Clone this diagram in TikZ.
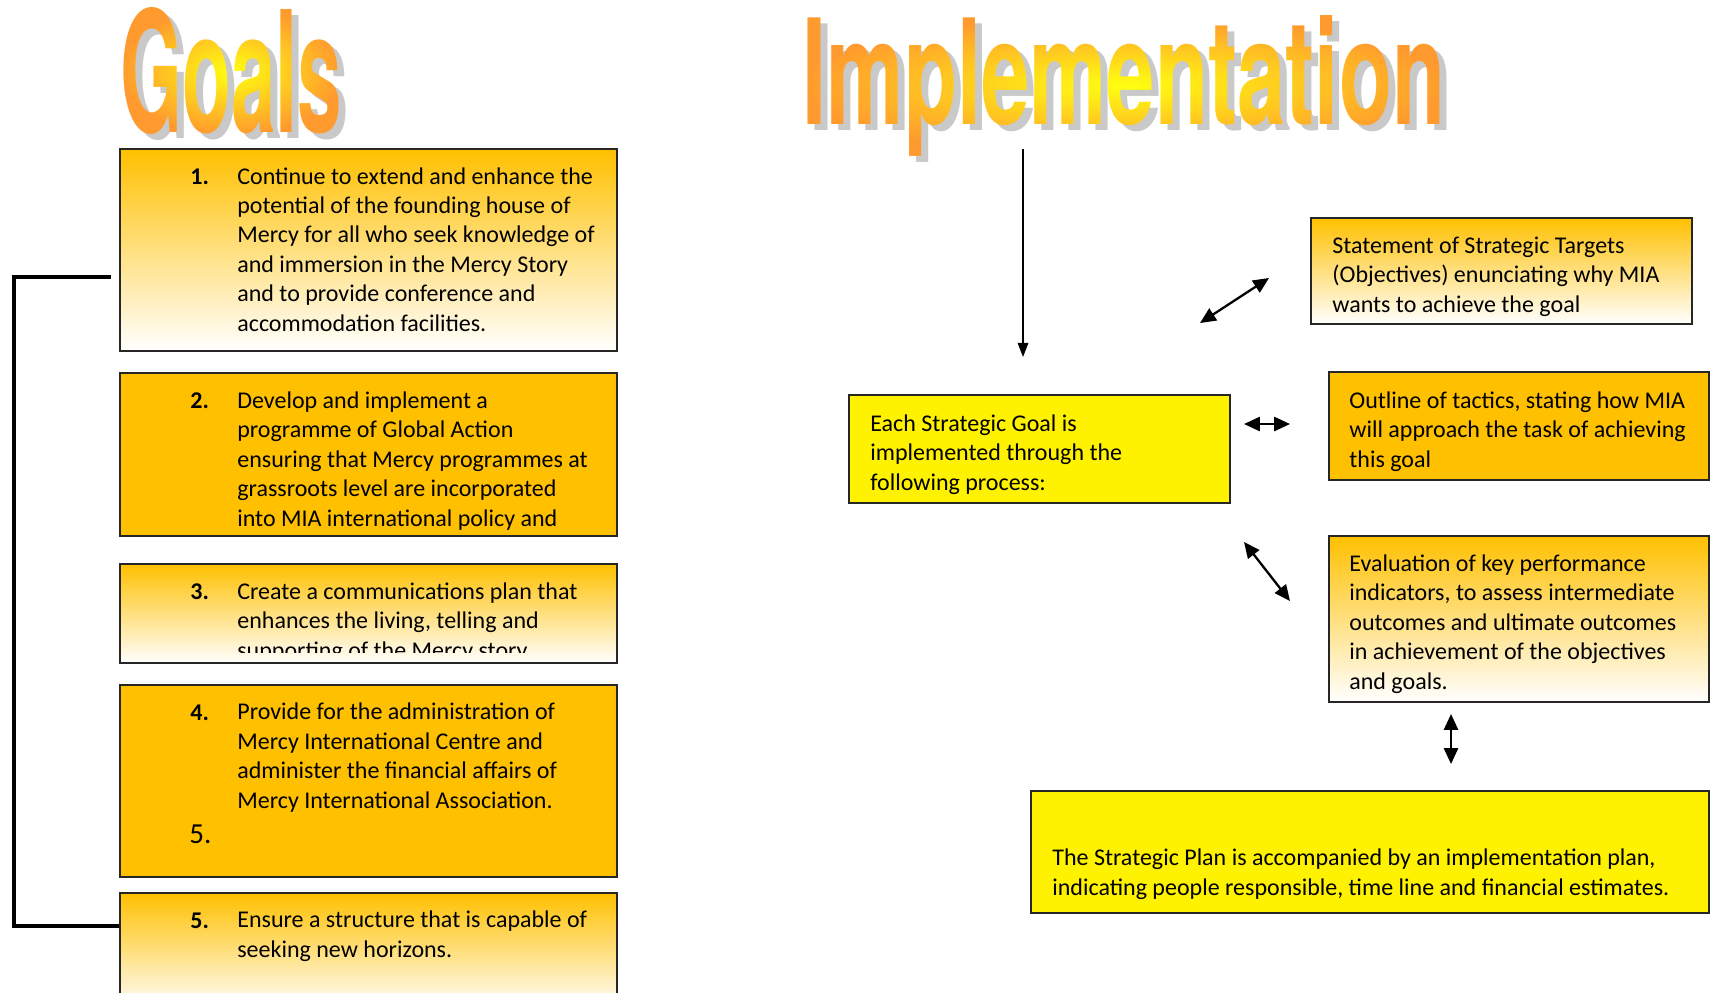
\documentclass[tikz,border=0pt]{standalone}
\usepackage{fontspec}
\setmainfont{Carlito}
\newfontfamily\titlefont{TeX Gyre Heros}
\usepackage{graphicx}
\usepackage{xcolor}
\usetikzlibrary{arrows.meta,fit,fadings}

\definecolor{gold}{HTML}{FFC000}
\definecolor{titleorange}{HTML}{FF9A2E}
\definecolor{titleyellow}{HTML}{FFFF10}
\definecolor{shadowgray}{HTML}{C9C9C9}

\newcommand{\bodyfont}{\fontsize{13.66pt}{16.73pt}\selectfont}
\newcommand{\goalsword}{\resizebox{4.44cm}{2.5cm}{\titlefont\bfseries Goals}}
\newcommand{\implword}{\resizebox{12.86cm}{2.18cm}{\titlefont\bfseries Implementation}}

\pgfdeclarefading{goalsfade}{\color{pgftransparent!0}\goalsword}
\pgfdeclarefading{implfade}{\color{pgftransparent!0}\implword}

\tikzstyle{arrow} = [line width=1.3pt,{Triangle[length=9pt,width=8pt]}-{Triangle[length=9pt,width=8pt]}]

\begin{document}
\begin{tikzpicture}[x=0.02cm,y=-0.02cm]
    \tikzstyle{fadebox}=[draw=black!85, line width=1pt, inner sep=0pt, top color=gold, bottom color=white]
    \tikzstyle{goldbox}=[draw=black!85, line width=1pt, inner sep=0pt, fill=gold]
    \tikzstyle{yellowbox}=[draw=black!85, line width=1pt, inner sep=0pt, fill=yellow]
    \tikzstyle{boxtext}=[anchor=base west, align=left, inner sep=0pt, font=\bodyfont]
    \tikzstyle{numtext}=[anchor=base west, inner sep=0pt, font=\bodyfont\bfseries]
    \tikzstyle{titletext}=[inner sep=0pt]
    \useasboundingbox[fill=white] (0,0) rectangle (1716,992);

    % titles
    \node[titletext, anchor=south west, text=shadowgray] (goalsshadow) at (127,141) {\goalsword};
    \node[titletext, anchor=south west] (goalstitle) at (120,135) {\phantom{\goalsword}};
    \path[path fading=goalsfade, fit fading=false, fading transform={shift=(goalstitle.center)},
        inner color=titleyellow, outer color=titleorange]
        (goalstitle.south west) rectangle (goalstitle.north east);
    \node[titletext, anchor=base west, text=shadowgray] (implshadow) at (809,130) {\implword};
    \node[titletext, anchor=base west] (impltitle) at (802,124) {\phantom{\implword}};
    \path[path fading=implfade, fit fading=false, fading transform={shift=(impltitle.center)},
        inner color=titleyellow, outer color=titleorange]
        (impltitle.south west) rectangle (impltitle.north east);

    % goals (text nodes sit on their last line)
    \node[fadebox, fit={(120,149) (617,351)}] (goal1) {};
    \node[goldbox, fit={(120,373) (617,536)}] (goal2) {};
    \node[fadebox, fit={(120,564) (617,663)}] (goal3) {};
    \node[goldbox, fit={(120,685) (617,877)}] (goal4) {};
    \node[fadebox, fit={(120,893) (617,1010)}] (goal5) {};

    \node[numtext] (num1) at (190,184) {1.};
    \node[boxtext] (text1) at (237,331) {Continue to extend and enhance the\\potential of the founding house of\\Mercy for all who seek knowledge of\\and immersion in the Mercy Story\\and to provide conference and\\accommodation facilities.};
    \node[numtext] (num2) at (190,408) {2.};
    \node[boxtext] (text2) at (237,526) {Develop and implement a\\programme of Global Action\\ensuring that Mercy programmes at\\grassroots level are incorporated\\into MIA international policy and};
    \begin{scope}
        \clip (121,565) rectangle (616,652);
        \node[numtext] (num3) at (190,599) {3.};
        \node[boxtext] (text3) at (237,658) {Create a communications plan that\\enhances the living, telling and\\supporting of the Mercy story};
    \end{scope}
    \node[numtext] (num4) at (190,720) {4.};
    \node[boxtext] (text4) at (237,808) {Provide for the administration of\\Mercy International Centre and\\administer the financial affairs of\\Mercy International Association.};
    \node[anchor=base west, inner sep=0pt, font=\fontsize{16.5pt}{20pt}\selectfont] (num4b) at (189,843) {5.};
    \node[numtext] (num5) at (190,928) {5.};
    \node[boxtext] (text5) at (237,957) {Ensure a structure that is capable of\\seeking new horizons.};

    \coordinate (brtop) at (111,277);
    \coordinate (brbot) at (goal5.west |- 0,926);
    \draw[line width=2pt] (brtop) -- ++(-97,0) |- (brbot);

    % implementation
    \node[yellowbox, fit={(849,395) (1230,503)}] (each) {};
    \node[fadebox, fit={(1311,218) (1692,324)}] (targets) {};
    \node[goldbox, fit={(1329,372) (1709,480)}] (tactics) {};
    \node[fadebox, fit={(1329,536) (1709,702)}] (kpi) {};
    \node[yellowbox, fit={(1031,791) (1709,913)}] (plan) {};

    \node[boxtext] (eachtext) at (870,490) {Each Strategic Goal is\\implemented through the\\following process:};
    \node[boxtext] (targetstext) at (1332,312) {Statement of Strategic Targets\\(Objectives) enunciating why MIA\\wants to achieve the goal};
    \node[boxtext] (tacticstext) at (1349,467) {Outline of tactics, stating how MIA\\will approach the task of achieving\\this goal};
    \node[boxtext] (kpitext) at (1349,689) {Evaluation of key performance\\indicators, to assess intermediate\\outcomes and ultimate outcomes\\in achievement of the objectives\\and goals.};
    \node[boxtext] (plantext) at (1052,895) {The Strategic Plan is accompanied by an implementation plan,\\indicating people responsible, time line and financial estimates.};

    \coordinate (downtop) at (1023,149);
    \coordinate (downend) at (1023,357);
    \draw[line width=0.8pt, -{Triangle[length=8pt,width=6pt]}] (downtop) -- (downend);

    \coordinate (a1) at (1200,323);
    \coordinate (b1) at (1269,278);
    \coordinate (a2) at (1244,424);
    \coordinate (b2) at (1290,424);
    \coordinate (a3) at (1244,542);
    \coordinate (b3) at (1290,601);
    \coordinate (a4) at (1451,714);
    \coordinate (b4) at (1451,764);
    \draw[arrow] (a1) -- (b1);
    \draw[arrow] (a2) -- (b2);
    \draw[arrow] (a3) -- (b3);
    \draw[arrow] (a4) -- (b4);
\end{tikzpicture}
\end{document}
